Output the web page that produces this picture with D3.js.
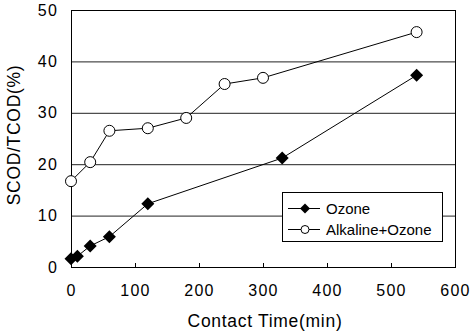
<!DOCTYPE html>
<meta charset="utf-8">
<style>
  body { margin: 0; background: #fff; }
  svg text { font-family: "Liberation Sans", Arial, sans-serif; fill: #000; }
  .tick text { font-size: 16px; letter-spacing: 1.2px; }
</style>
<script src="https://d3js.org/d3.v7.min.js"></script>
<div id="chart"></div>
<script>
  // data
  var ozoneTime = [0, 10, 30, 60, 120, 330, 540];
  var ozoneVal = [1.6, 2.1, 4.1, 5.9, 12.3, 21.2, 37.3];
  var alkTime = [0, 30, 60, 120, 180, 240, 300, 540];
  var alkVal = [16.7, 20.4, 26.5, 27.0, 29.0, 35.6, 36.8, 45.7];
  var xTicks = [0, 100, 200, 300, 400, 500, 600];
  var yTicks = [0, 10, 20, 30, 40, 50];
  var seriesNames = ["Ozone", "Alkaline+Ozone"];

  var margin = {top: 10, right: 17, bottom: 66, left: 71},
    width = 472 - margin.left - margin.right,
    height = 333 - margin.top - margin.bottom;

  var svg = d3.select("#chart").append("svg")
      .attr("width", 472)
      .attr("height", 333)
    .append("g")
      .attr("transform", "translate(" + margin.left + "," + margin.top + ")");

  var x = d3.scaleLinear().domain([0, 600]).range([0, width]);
  var y = d3.scaleLinear().domain([0, 50]).range([height, 0]);

  // horizontal grid lines
  svg.append("g")
    .selectAll("line")
    .data(yTicks)
    .enter().append("line")
      .attr("x1", 0).attr("x2", width)
      .attr("y1", function(d) { return y(d) + 0.5; })
      .attr("y2", function(d) { return y(d) + 0.5; })
      .style("stroke", "#222")
      .style("stroke-width", 1);

  // axes
  var xAxis = svg.append("g")
    .attr("transform", "translate(0," + height + ")")
    .call(d3.axisBottom(x).tickValues(xTicks).tickSize(-4).tickPadding(18));
  xAxis.select(".domain").remove();
  xAxis.selectAll(".tick line").style("stroke", "#000");

  var yAxis = svg.append("g")
    .call(d3.axisLeft(y).tickValues(yTicks).tickSize(0).tickPadding(13));
  yAxis.select(".domain").remove();

  // plot frame
  svg.append("rect")
    .attr("x", 0.5).attr("y", 0.5)
    .attr("width", width).attr("height", height)
    .style("fill", "none")
    .style("stroke", "#000");

  var line = d3.line()
    .x(function(d) { return x(d[0]); })
    .y(function(d) { return y(d[1]); });

  var ozone = ozoneTime.map(function(t, i) { return [t, ozoneVal[i]]; });
  var alk = alkTime.map(function(t, i) { return [t, alkVal[i]]; });

  svg.append("path").datum(alk).attr("d", line)
    .style("fill", "none").style("stroke", "#000").style("stroke-width", 1);
  svg.append("path").datum(ozone).attr("d", line)
    .style("fill", "none").style("stroke", "#000").style("stroke-width", 1);

  svg.selectAll(".alk").data(alk).enter().append("circle")
    .attr("class", "alk")
    .attr("cx", function(d) { return x(d[0]); })
    .attr("cy", function(d) { return y(d[1]); })
    .attr("r", 5.5)
    .style("fill", "#fff").style("stroke", "#000").style("stroke-width", 1);

  var diamond = "M0,-6.5L6.5,0L0,6.5L-6.5,0Z";
  svg.selectAll(".oz").data(ozone).enter().append("path")
    .attr("class", "oz")
    .attr("d", diamond)
    .attr("transform", function(d) { return "translate(" + x(d[0]) + "," + y(d[1]) + ")"; })
    .style("fill", "#000");

  // axis titles
  svg.append("text")
    .attr("x", 194).attr("y", 317)
    .attr("text-anchor", "middle")
    .style("font-size", "17.5px")
    .style("letter-spacing", "0.7px")
    .text("Contact Time(min)");
  svg.append("text")
    .attr("transform", "translate(-51,125) rotate(-90)")
    .attr("text-anchor", "middle")
    .style("font-size", "17.5px")
    .style("letter-spacing", "0.7px")
    .text("SCOD/TCOD(%)");

  // legend
  var legend = svg.append("g").attr("transform", "translate(211,182)");
  legend.append("rect")
    .attr("x", 0.5).attr("y", 0.5)
    .attr("width", 160).attr("height", 49)
    .style("fill", "#fff").style("stroke", "#000");
  var rows = legend.selectAll(".row").data(seriesNames).enter().append("g")
    .attr("class", "row")
    .attr("transform", function(d, i) { return "translate(0," + (16 + i * 21) + ")"; });
  rows.append("line")
    .attr("x1", 6).attr("x2", 38).attr("y1", 0.5).attr("y2", 0.5)
    .style("stroke", "#000");
  rows.filter(function(d, i) { return i === 0; }).append("path")
    .attr("d", "M0,-5L5,0L0,5L-5,0Z")
    .attr("transform", "translate(23,0.5)")
    .style("fill", "#000");
  rows.filter(function(d, i) { return i === 1; }).append("circle")
    .attr("cx", 23).attr("cy", 0.5).attr("r", 4)
    .style("fill", "#fff").style("stroke", "#000");
  rows.append("text")
    .attr("x", 44).attr("y", 5.5)
    .style("font-size", "15px")
    .text(function(d) { return d; });
</script>
